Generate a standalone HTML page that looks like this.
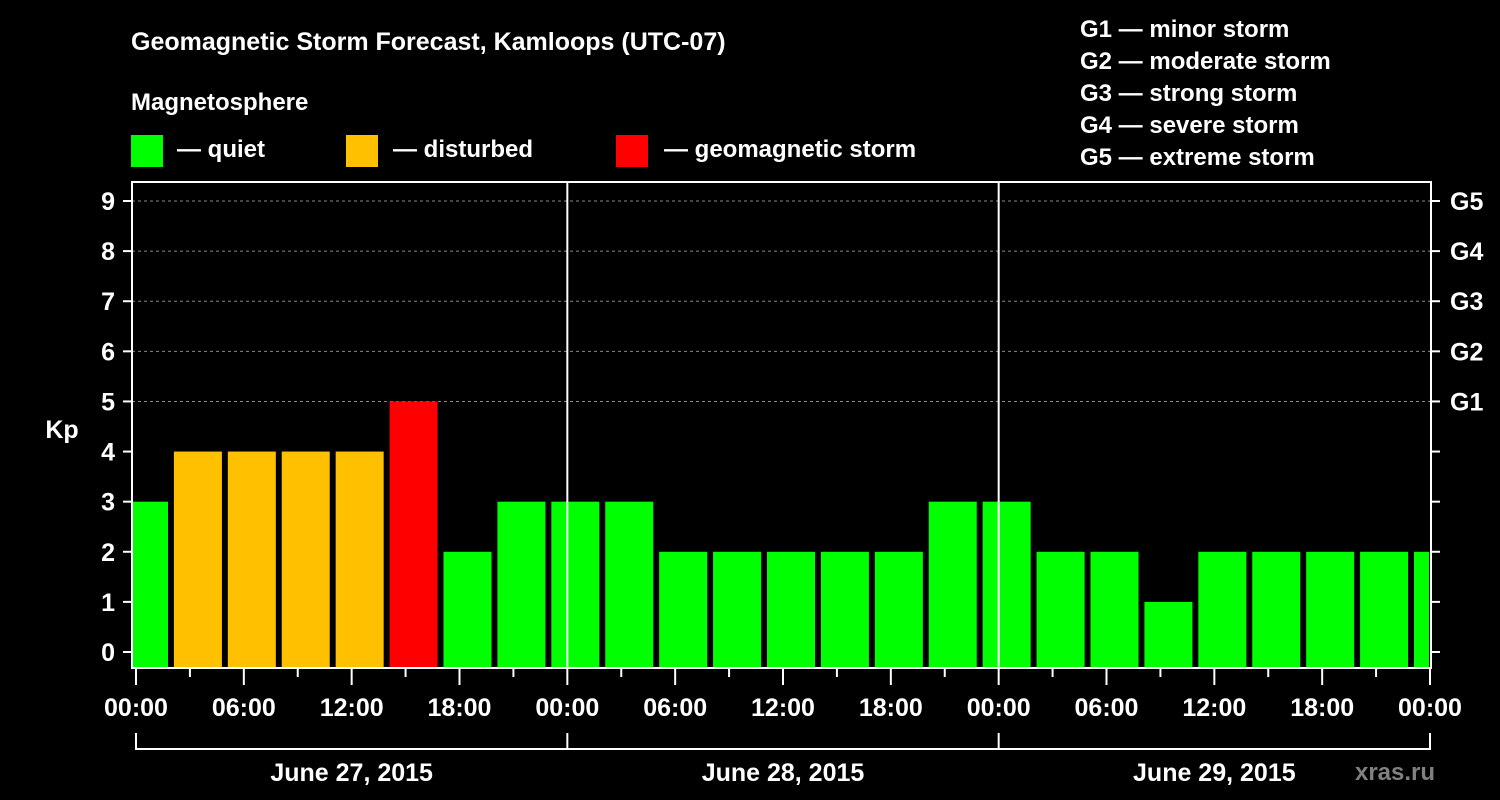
<!DOCTYPE html>
<html><head><meta charset="utf-8"><style>
html,body{margin:0;padding:0;background:#000;width:1500px;height:800px;overflow:hidden}
svg text{font-family:"Liberation Sans",Arial,sans-serif;font-weight:bold;fill:#fff}
</style></head><body>
<svg id="c" width="1500" height="800" xmlns="http://www.w3.org/2000/svg">
<text x="131" y="50" font-size="25">Geomagnetic Storm Forecast, Kamloops (UTC-07)</text>
<text x="131" y="110" font-size="24">Magnetosphere</text>
<g><rect x="131" y="135" width="32" height="32" fill="#00ff00"/><text x="177" y="157" font-size="24">— quiet</text></g>
<g><rect x="346" y="135" width="32" height="32" fill="#ffc000"/><text x="393" y="157" font-size="24">— disturbed</text></g>
<g><rect x="616" y="135" width="32" height="32" fill="#ff0000"/><text x="664" y="157" font-size="24">— geomagnetic storm</text></g>
<g font-size="24">
<text x="1080" y="37">G1 — minor storm</text>
<text x="1080" y="69">G2 — moderate storm</text>
<text x="1080" y="101">G3 — strong storm</text>
<text x="1080" y="133">G4 — severe storm</text>
<text x="1080" y="165">G5 — extreme storm</text>
</g>
<defs><clipPath id="pc"><rect x="132" y="182" width="1297" height="486"/></clipPath></defs>
<g id="grid"></g>
<g id="bars" clip-path="url(#pc)"></g>
<g id="axes"></g>
<text x="62" y="438" font-size="25" text-anchor="middle">Kp</text>
<text x="1395" y="780" font-size="24" fill="#808080" style="fill:#808080" text-anchor="middle">xras.ru</text>
</svg>
<script>
const kpValues=[3,4,4,4,4,5,2,3,3,3,2,2,2,2,2,3,3,2,2,1,2,2,2,2,2];
const yTicks=[0,1,2,3,4,5,6,7,8,9];
const gLabels=["G1","G2","G3","G4","G5"];
const gLevels=[5,6,7,8,9];
const xTickLabels=["00:00","06:00","12:00","18:00","00:00","06:00","12:00","18:00","00:00","06:00","12:00","18:00","00:00"];
const dayLabels=["June 27, 2015","June 28, 2015","June 29, 2015"];
const NS="http://www.w3.org/2000/svg";
const X0=136,X1=1430,Y0=652,Y9=201;
const xh=h=>X0+(X1-X0)*h/72;
const yk=k=>Y0+(Y9-Y0)*k/9;
function mk(p,tag,at,txt){const e=document.createElementNS(NS,tag);for(const k in at)e.setAttribute(k,at[k]);if(txt!=null)e.textContent=txt;p.appendChild(e);return e;}
const grid=document.getElementById('grid'),bars=document.getElementById('bars'),axes=document.getElementById('axes');
gLevels.forEach((g,i)=>{const l=mk(grid,'line',{x1:132,x2:1431,y1:yk(g),y2:yk(g),stroke:'#888','stroke-dasharray':'3,3','stroke-width':1});


const t=mk(axes,'text',{x:1450,y:yk(g)+9,'font-size':25},gLabels[i]);

});
const colorOf=v=>v>=5?'#ff0000':(v>=4?'#ffc000':'#00ff00');
kpValues.forEach((v,i)=>{const c=xh(3*i+0.445);const r=mk(bars,'rect',{x:c-24,y:yk(v),width:48,height:668-yk(v),fill:colorOf(v)});

});
[1,2].forEach(d=>{const l=mk(axes,'line',{x1:xh(24*d),x2:xh(24*d),y1:182,y2:668,stroke:'#fff','stroke-width':2});

});
const fr=mk(axes,'rect',{x:132,y:182,width:1299,height:486,fill:'none',stroke:'#fff','stroke-width':2});


yTicks.forEach(k=>{mk(axes,'line',{x1:123,x2:132,y1:yk(k),y2:yk(k),stroke:'#fff','stroke-width':2});
mk(axes,'line',{x1:1431,x2:1440,y1:yk(k),y2:yk(k),stroke:'#fff','stroke-width':2});
const t=mk(axes,'text',{x:115,y:yk(k)+9,'font-size':25,'text-anchor':'end'},String(k));

});
for(let h=0;h<=72;h+=3){const maj=h%6===0;mk(axes,'line',{x1:xh(h),x2:xh(h),y1:669,y2:maj?685:677,stroke:'#fff','stroke-width':2});}
xTickLabels.forEach((s,i)=>{const t=mk(axes,'text',{x:xh(6*i),y:716,'font-size':25,'text-anchor':'middle'},s);

});
mk(axes,'line',{x1:X0,x2:X1,y1:749,y2:749,stroke:'#fff','stroke-width':2});
for(let d=0;d<=3;d++)mk(axes,'line',{x1:xh(24*d),x2:xh(24*d),y1:733,y2:750,stroke:'#fff','stroke-width':2});
dayLabels.forEach((s,i)=>{const t=mk(axes,'text',{x:xh(24*i+12),y:781,'font-size':25,'text-anchor':'middle'},s);

});
</script>
</body></html>
